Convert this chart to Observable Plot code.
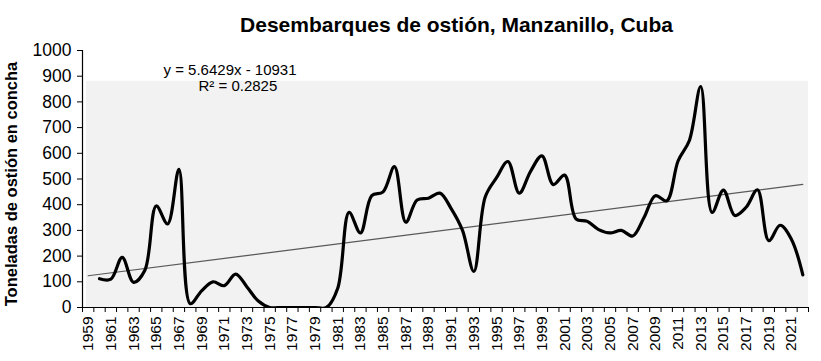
<!DOCTYPE html>
<html><head><meta charset="utf-8">
<script src="https://cdn.jsdelivr.net/npm/d3@7"></script>
<script src="https://cdn.jsdelivr.net/npm/@observablehq/plot@0.6"></script>
<style>
body{margin:0;background:#fff}
#chart svg{font-family:"Liberation Sans",Arial,sans-serif;background:#fff}
</style>
</head><body><div id="chart"></div>
<script>
const title = "Desembarques de ostión, Manzanillo, Cuba";
const yLabel = "Toneladas de ostión en concha";
const years = d3.range(1960, 2023);
const landings = [
  112, 110, 195, 98, 145, 395, 325, 538, 15, 65,
  100, 85, 130, 80, 25, 0, 0, 0, 0, 0,
  0, 75, 370, 290, 435, 450, 548, 332, 418, 425,
  445, 385, 300, 140, 430, 505, 568, 445, 530, 590,
  478, 515, 345, 335, 303, 290, 300, 278, 350, 435,
  415, 570, 650, 860, 370, 457, 358, 390, 458, 260,
  320, 265, 127
];
const tickYears = d3.range(1959, 2022, 2);
const yTicks = d3.range(0, 1001, 100);
const trendSlope = 5.6429;
const trendIntercept = -10931;
const trendYears = [1959, 2022];
const trendLabel = ["y = 5.6429x - 10931", "R² = 0.2825"];

const xDomain = [1958.5, 2022.5];
const yDomain = [0, 1000];
const boundaries = d3.range(xDomain[0], xDomain[1] + 0.01, 1);

const data = years.map((year, i) => ({year, value: landings[i]}));
const trend = trendYears.map(year => ({year, value: trendSlope * year + trendIntercept}));
const bg = [{x1: xDomain[0] + 0.35, x2: xDomain[1], y1: 0, y2: 880}];

const chart = Plot.plot({
  width: 821,
  height: 361,
  marginTop: 50,
  marginBottom: 54,
  marginLeft: 82,
  marginRight: 13,
  style: {fontFamily: "'Liberation Sans', Arial, sans-serif", color: "#000", background: "#fff"},
  x: {domain: xDomain},
  y: {domain: yDomain},
  marks: [
    Plot.rect(bg, {x1: "x1", x2: "x2", y1: "y1", y2: "y2", fill: "#f2f2f2"}),
    Plot.line(trend, {x: "year", y: "value", stroke: "#595959", strokeWidth: 1.2}),
    Plot.line(data, {x: "year", y: "value", curve: "catmull-rom", stroke: "#000", strokeWidth: 3.2, clip: true}),
    Plot.ruleX([xDomain[0]], {stroke: "#000", strokeWidth: 1.2}),
    Plot.ruleY([0], {stroke: "#000", strokeWidth: 1.2}),
    Plot.axisY({ticks: yTicks, tickSize: 5, tickPadding: 6, tickFormat: d => String(d), fontSize: 17.5, label: null, stroke: "#000"}),
    Plot.axisX({ticks: boundaries, tickSize: 5, tickFormat: () => "", label: null, stroke: "#000"}),
    Plot.axisX({ticks: tickYears, tickSize: 0, tickPadding: 9, tickRotate: -90, tickFormat: d => String(d), fontSize: 15.5, label: null}),
    Plot.text([title], {text: d => d, frameAnchor: "top", dx: 11, dy: -25, fontSize: 21, fontWeight: "bold", lineAnchor: "middle", fill: "#000"}),
    Plot.text([trendLabel[0]], {text: d => d, frameAnchor: "top-left", dx: 81, dy: 20, textAnchor: "start", lineAnchor: "middle", fontSize: 15, fill: "#000"}),
    Plot.text([trendLabel[1]], {text: d => d, frameAnchor: "top-left", dx: 116, dy: 36, textAnchor: "start", lineAnchor: "middle", fontSize: 15, fill: "#000"}),
    Plot.text([yLabel], {text: d => d, frameAnchor: "left", rotate: -90, dx: -70.5, dy: 5, fontSize: 16.5, fontWeight: "bold", lineAnchor: "middle", textAnchor: "middle", fill: "#000"})
  ]
});
document.getElementById("chart").append(chart);
</script>
</body></html>
